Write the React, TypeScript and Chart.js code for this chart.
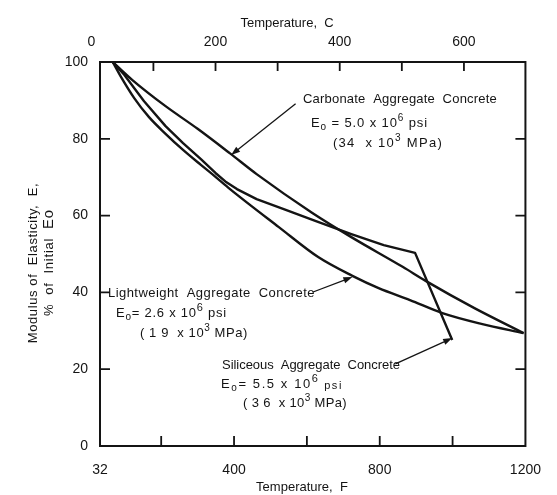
import React, { useEffect, useRef } from 'react';
import { Chart, registerables } from 'chart.js';

Chart.register(...registerables);

// ---------------- data ----------------
// Temperature in deg F, modulus in % of initial Eo
const carbonateF = [67, 121, 212, 300, 389, 462, 615, 722, 864, 926, 1060, 1195];
const carbonateE = [100, 95.3, 88.5, 82.6, 76.2, 70.8, 60.7, 54.4, 46.6, 43.0, 35.9, 29.4];

const siliceousF = [67, 99, 153, 212, 260, 309, 349, 376, 408, 462, 542, 623, 722, 811, 897, 999];
const siliceousE = [100, 96.6, 89.8, 83.3, 78.9, 74.7, 71.1, 68.9, 66.9, 64.3, 61.5, 58.6, 55.2, 52.3, 50.3, 27.6];

const lightweightF = [67, 88, 126, 166, 212, 260, 309, 349, 389, 523, 631, 725, 797, 883, 972, 1079, 1195];
const lightweightE = [100, 96.4, 90.6, 85.7, 81.3, 77.1, 73.2, 70.1, 66.9, 57.0, 49.2, 44.3, 41.1, 38.0, 34.6, 31.8, 29.4];

// axis ticks
const fahrenheitLabels = [32, 400, 800, 1200];
const fahrenheitMarks = [200, 400, 600, 800, 1000];
const celsiusLabels = [0, 200, 400, 600];
const celsiusMarks = [100, 200, 300, 400, 500, 600];
const percentLabels = [0, 20, 40, 60, 80, 100];
const percentMarks = [20, 40, 60, 80];
const fahrenheitRange = [32, 1200];
const celsiusRange = [14, 699]; // extent of the upper scale as printed
const percentRange = [0, 100];

// annotation arrows: [tailF, tailE, tipF, tipE]
const carbonateArrow = [569, 89.1, 392, 75.8];
const lightweightArrow = [617, 40.1, 725, 44.0];
const siliceousArrow = [843, 21.4, 999, 28.1];

const INK = '#141414';
const FONT = '"Liberation Sans", Arial, Helvetica, sans-serif';

type Part = { t: string; s?: number; dy?: number };

function drawLine(ctx: CanvasRenderingContext2D, parts: Part[], x0: number, x1: number, base: number, size = 13) {
  let natural = 0;
  let chars = 0;
  const anyCtx = ctx as any;
  anyCtx.letterSpacing = '0px';
  for (const p of parts) {
    ctx.font = `${p.s ?? size}px ${FONT}`;
    natural += ctx.measureText(p.t).width;
    chars += p.t.length;
  }
  let ls = (x1 - x0 - natural) / Math.max(1, chars);
  ls = Math.max(-0.6, Math.min(5, ls));
  let cx = x0;
  ctx.textAlign = 'left';
  ctx.textBaseline = 'alphabetic';
  for (const p of parts) {
    ctx.font = `${p.s ?? size}px ${FONT}`;
    anyCtx.letterSpacing = '0px';
    const w = ctx.measureText(p.t).width;
    anyCtx.letterSpacing = `${ls}px`;
    ctx.fillText(p.t, cx, base + (p.dy ?? 0));
    cx += w + ls * p.t.length;
  }
  anyCtx.letterSpacing = '0px';
}

function arrow(ctx: CanvasRenderingContext2D, chart: any, a: number[]) {
  const x = chart.scales.x;
  const y = chart.scales.y;
  const x0 = x.getPixelForValue(a[0]);
  const y0 = y.getPixelForValue(a[1]);
  const x1 = x.getPixelForValue(a[2]);
  const y1 = y.getPixelForValue(a[3]);
  const ang = Math.atan2(y1 - y0, x1 - x0);
  const L = 9;
  const W = 3.2;
  ctx.beginPath();
  ctx.moveTo(x0, y0);
  ctx.lineTo(x1 - Math.cos(ang) * L * 0.8, y1 - Math.sin(ang) * L * 0.8);
  ctx.lineWidth = 1.3;
  ctx.stroke();
  ctx.beginPath();
  ctx.moveTo(x1, y1);
  ctx.lineTo(x1 - Math.cos(ang) * L - Math.sin(ang) * W, y1 - Math.sin(ang) * L + Math.cos(ang) * W);
  ctx.lineTo(x1 - Math.cos(ang) * L + Math.sin(ang) * W, y1 - Math.sin(ang) * L - Math.cos(ang) * W);
  ctx.closePath();
  ctx.fill();
}

const decor = {
  id: 'decor',
  afterDraw(chart: any) {
    const { ctx, chartArea: a, scales } = chart;
    const x = scales.x;
    const xt = scales.xTop;
    const y = scales.y;
    ctx.save();
    ctx.strokeStyle = INK;
    ctx.fillStyle = INK;
    // frame
    ctx.lineWidth = 2;
    ctx.strokeRect(a.left, a.top, a.right - a.left, a.bottom - a.top);
    // inward tick marks
    ctx.lineWidth = 1.8;
    ctx.beginPath();
    for (const v of fahrenheitMarks) {
      const px = x.getPixelForValue(v);
      ctx.moveTo(px, a.bottom);
      ctx.lineTo(px, a.bottom - 10);
    }
    for (const v of celsiusMarks) {
      const px = xt.getPixelForValue(v);
      ctx.moveTo(px, a.top);
      ctx.lineTo(px, a.top + 9);
    }
    for (const v of percentMarks) {
      const py = y.getPixelForValue(v);
      ctx.moveTo(a.left, py);
      ctx.lineTo(a.left + 10, py);
      ctx.moveTo(a.right, py);
      ctx.lineTo(a.right - 10, py);
    }
    ctx.stroke();

    // axis titles
    ctx.textAlign = 'center';
    ctx.textBaseline = 'middle';
    ctx.font = `13px ${FONT}`;
    ctx.fillText('Temperature,  C', 287, 23);
    ctx.fillText('Temperature,  F', 302, 487);

    ctx.save();
    ctx.translate(33, 263);
    ctx.rotate(-Math.PI / 2);
    ctx.font = `13px ${FONT}`;
    (ctx as any).letterSpacing = '0.6px';
    ctx.fillText('Modulus of  Elasticity,  E,', 0, 0);
    (ctx as any).letterSpacing = '0px';
    ctx.restore();
    ctx.save();
    ctx.translate(48, 263);
    ctx.rotate(-Math.PI / 2);
    drawLine(ctx, [{ t: '%  of  Initial  ' }, { t: 'Eo', s: 15 }], -53, 54, 5, 13);
    ctx.restore();

    // annotations
    drawLine(ctx, [{ t: 'Carbonate  Aggregate  Concrete' }], 303, 497, 103);
    drawLine(ctx, [{ t: 'E' }, { t: 'o', s: 10, dy: 3 }, { t: ' = 5.0 x 10' }, { t: '6', s: 10, dy: -6 }, { t: ' psi' }], 311, 428, 127);
    drawLine(ctx, [{ t: '(34  x 10' }, { t: '3', s: 10, dy: -6 }, { t: ' MPa)' }], 333, 443, 147);

    drawLine(ctx, [{ t: 'Lightweight  Aggregate  Concrete' }], 108, 315, 297);
    drawLine(ctx, [{ t: 'E' }, { t: 'o', s: 10, dy: 3 }, { t: '= 2.6 x 10' }, { t: '6', s: 11, dy: -6 }, { t: ' psi' }], 116, 227, 317);
    drawLine(ctx, [{ t: '( 1 9  x 10' }, { t: '3', s: 10, dy: -6 }, { t: ' MPa)' }], 140, 248, 337);

    drawLine(ctx, [{ t: 'Siliceous  Aggregate  Concrete' }], 222, 400, 369);
    drawLine(ctx, [{ t: 'E' }, { t: 'o', s: 10, dy: 3 }, { t: '= 5.5 x 10' }, { t: '6', s: 11, dy: -6 }, { t: ' psi', s: 11, dy: 1 }], 221, 343, 388);
    drawLine(ctx, [{ t: '( 3 6  x 10' }, { t: '3', s: 10, dy: -6 }, { t: ' MPa)' }], 243, 347, 407);

    arrow(ctx, chart, carbonateArrow);
    arrow(ctx, chart, lightweightArrow);
    arrow(ctx, chart, siliceousArrow);
    ctx.restore();
  },
};

const toPoints = (xs: number[], ys: number[]) => xs.map((v, i) => ({ x: v, y: ys[i] }));

const tickFont = { family: FONT, size: 14 };

export default function App() {
  const ref = useRef<HTMLCanvasElement | null>(null);

  useEffect(() => {
    if (!ref.current) return;
    const line = (label: string, xs: number[], ys: number[], smooth: boolean) => ({
      label,
      data: toPoints(xs, ys),
      borderColor: INK,
      borderWidth: 2.4,
      pointRadius: 0,
      fill: false,
      tension: 0,
      cubicInterpolationMode: smooth ? ('monotone' as const) : ('default' as const),
      borderJoinStyle: 'round' as const,
      xAxisID: 'x',
      yAxisID: 'y',
    });
    const chart = new Chart(ref.current, {
      type: 'line',
      data: {
        datasets: [
          line('Carbonate Aggregate Concrete', carbonateF, carbonateE, true),
          line('Siliceous Aggregate Concrete', siliceousF, siliceousE, false),
          line('Lightweight Aggregate Concrete', lightweightF, lightweightE, true),
        ],
      },
      options: {
        responsive: false,
        maintainAspectRatio: false,
        devicePixelRatio: 1,
        animation: false,
        layout: { padding: 0 },
        plugins: { legend: { display: false }, tooltip: { enabled: false } },
        scales: {
          x: {
            type: 'linear',
            position: 'bottom',
            min: fahrenheitRange[0],
            max: fahrenheitRange[1],
            afterBuildTicks: (s: any) => { s.ticks = fahrenheitLabels.map((v) => ({ value: v })); },
            afterFit: (s: any) => { s.height = 49; },
            ticks: { autoSkip: false, maxRotation: 0, padding: 16, color: INK, font: tickFont, callback: (v: any) => String(v) },
            grid: { display: false, drawTicks: false },
            border: { display: false },
          },
          xTop: {
            type: 'linear',
            axis: 'x',
            position: 'top',
            min: celsiusRange[0],
            max: celsiusRange[1],
            afterBuildTicks: (s: any) => { s.ticks = celsiusLabels.map((v) => ({ value: v })); },
            afterFit: (s: any) => { s.height = 62; },
            ticks: { autoSkip: false, maxRotation: 0, padding: 11, color: INK, font: tickFont, callback: (v: any) => String(v) },
            grid: { display: false, drawTicks: false },
            border: { display: false },
          },
          y: {
            type: 'linear',
            position: 'left',
            min: percentRange[0],
            max: percentRange[1],
            afterBuildTicks: (s: any) => { s.ticks = percentLabels.map((v) => ({ value: v })); },
            afterFit: (s: any) => { s.width = 100; },
            ticks: { autoSkip: false, padding: 12, color: INK, font: tickFont, callback: (v: any) => String(v) },
            grid: { display: false, drawTicks: false },
            border: { display: false },
          },
          yRight: {
            type: 'linear',
            axis: 'y',
            position: 'right',
            min: percentRange[0],
            max: percentRange[1],
            afterFit: (s: any) => { s.width = 22; },
            ticks: { display: false },
            grid: { display: false, drawTicks: false },
            border: { display: false },
          },
        },
      },
      plugins: [decor],
    } as any);
    return () => chart.destroy();
  }, []);

  return (
    <div style={{ position: 'fixed', left: 0, top: 0, width: 557, height: 495, background: '#fff' }}>
      <canvas ref={ref} width={557} height={495} style={{ display: 'block', width: 557, height: 495 }} />
    </div>
  );
}
